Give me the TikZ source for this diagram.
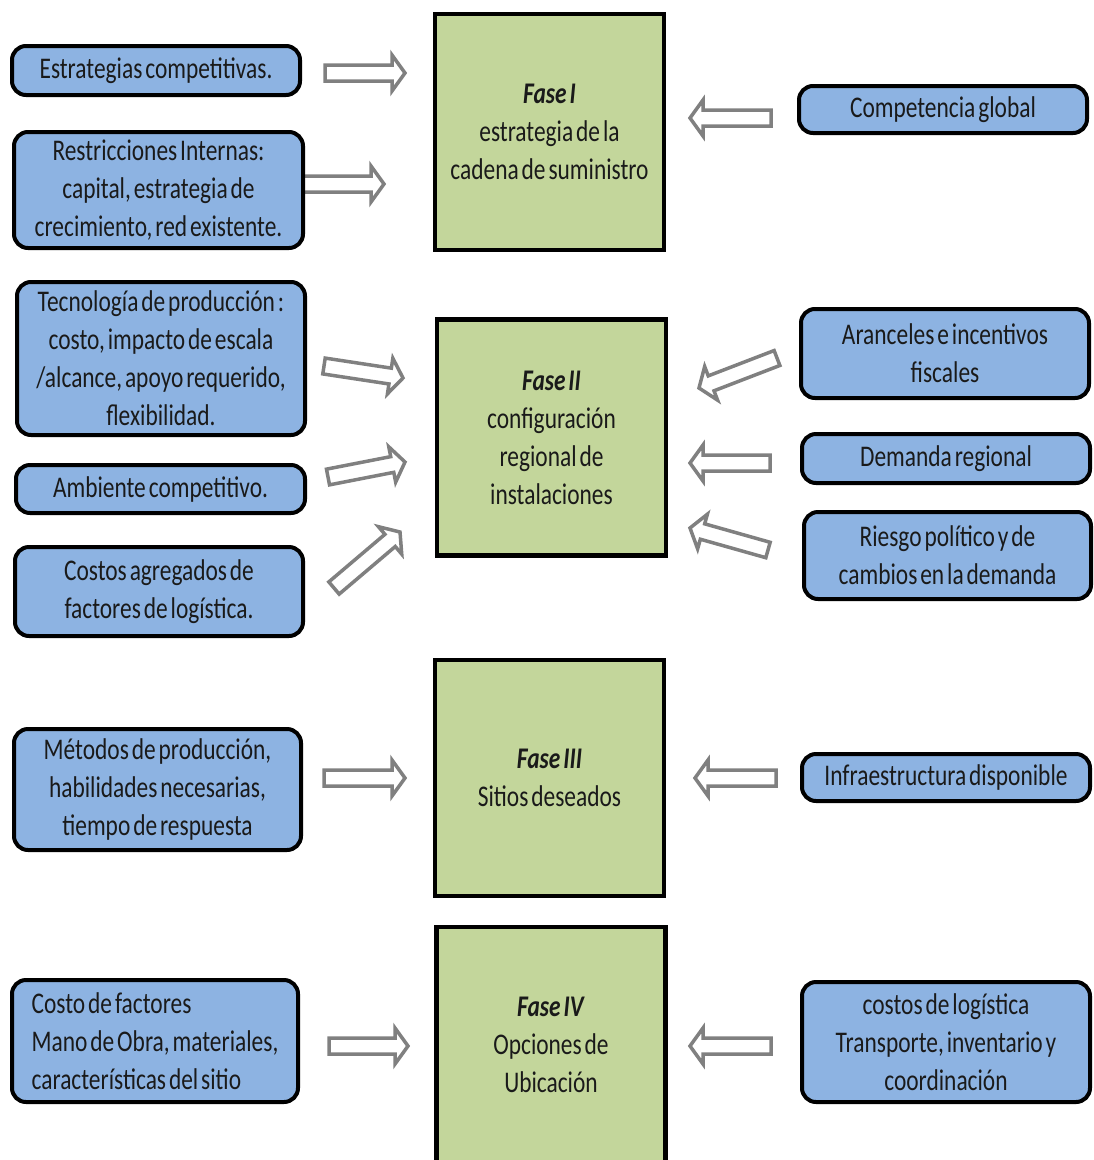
\documentclass[tikz,border=0pt]{standalone}
\usepackage{fontspec}
\setmainfont{Carlito}[FakeStretch=0.78, WordSpace=0.55]
\usetikzlibrary{calc}

\definecolor{boxblue}{HTML}{8DB3E2}
\definecolor{phasegreen}{HTML}{C3D69B}
\definecolor{arrowgray}{HTML}{808080}
\definecolor{inkdark}{HTML}{1A1A1A}

\tikzset{
  txt/.style={font=\fontsize{30}{38}\selectfont, text=inkdark},
  factor/.style={txt, draw=black, line width=4pt, fill=boxblue, rounded corners=14pt,
    align=center, inner sep=2pt},
  phase/.style={txt, draw=black, line width=4.5pt, fill=phasegreen, align=center,
    minimum width=229pt, minimum height=236pt},
  % hollow block arrow drawn between two named coordinates
  blockarrow/.style={draw=arrowgray, line width=3.5pt, fill=white, line join=miter,
    to path={
      ($(\tikztostart)!8pt!90:(\tikztotarget)$)
      -- ($(\tikztotarget)!13pt!(\tikztostart)!8pt!90:(\tikztotarget)$)
      -- ($(\tikztotarget)!13pt!(\tikztostart)!18pt!90:(\tikztotarget)$)
      -- (\tikztotarget)
      -- ($(\tikztotarget)!13pt!(\tikztostart)!18pt!-90:(\tikztotarget)$)
      -- ($(\tikztotarget)!13pt!(\tikztostart)!8pt!-90:(\tikztotarget)$)
      -- ($(\tikztostart)!8pt!-90:(\tikztotarget)$)
      -- cycle}}
}

\begin{document}
\begin{tikzpicture}[x=1pt, y=-1pt]
\useasboundingbox (0,0) rectangle (1094,1160);
\clip (0,0) rectangle (1094,1160);

% arrow end points
\coordinate (a1s) at (325,73);   \coordinate (a1e) at (405,73);
\coordinate (a2s) at (303,184);  \coordinate (a2e) at (384,184);
\coordinate (a3s) at (324,366);  \coordinate (a3e) at (403,378);
\coordinate (a4s) at (328,477);  \coordinate (a4e) at (405,462);
\coordinate (a5s) at (334,588);  \coordinate (a5e) at (400,532);
\coordinate (a6s) at (324,778);  \coordinate (a6e) at (405,778);
\coordinate (a7s) at (329,1046); \coordinate (a7e) at (408,1046);
\coordinate (b1s) at (771,118);  \coordinate (b1e) at (690,118);
\coordinate (b2s) at (777,358);  \coordinate (b2e) at (699,388);
\coordinate (b3s) at (770,463);  \coordinate (b3e) at (690,463);
\coordinate (b4s) at (768,550);  \coordinate (b4e) at (690,528);
\coordinate (b5s) at (776,778);  \coordinate (b5e) at (695,778);
\coordinate (b6s) at (771,1046); \coordinate (b6e) at (690,1046);

\foreach \a in {a1,a2,a3,a4,a5,a6,a7,b1,b2,b3,b4,b5,b6}
  \draw[blockarrow] (\a s) to (\a e);

% phases
\node[phase] (f1) at (549.5,132) {\textbf{\textit{Fase I}}\\estrategia de la\\cadena de suministro};
\node[phase] (f2) at (551.5,437.5) {\textbf{\textit{Fase II}}\\configuración\\regional de\\instalaciones};
\node[phase] (f3) at (549.5,778) {\textbf{\textit{Fase III}}\\Sitios deseados};
\node[phase] (f4) at (551,1045) {\textbf{\textit{Fase IV}}\\Opciones de\\Ubicación};

% left factors
\node[factor, minimum width=288pt, minimum height=49pt] (l1) at (156,70.5) {Estrategias competitivas.};
\node[factor, minimum width=289pt, minimum height=116pt] (l2) at (158.5,190) {Restricciones Internas:\\capital, estrategia de\\crecimiento, red existente.};
\node[factor, minimum width=288pt, minimum height=153pt] (l3) at (161,358.5) {Tecnología de producción :\\costo, impacto de escala\\/alcance, apoyo requerido,\\flexibilidad.};
\node[factor, minimum width=289pt, minimum height=48pt] (l4) at (160.5,489) {Ambiente competitivo.};
\node[factor, minimum width=288pt, minimum height=89pt] (l5) at (159,591.5) {Costos agregados de\\factores de logística.};
\node[factor, minimum width=287pt, minimum height=121pt] (l6) at (157.5,789.5) {Métodos de producción,\\habilidades necesarias,\\tiempo de respuesta};
\node[factor, minimum width=286pt, minimum height=122pt, align=left] (l7) at (155,1041) {Costo de factores\\Mano de Obra, materiales,\\características del sitio};

% right factors
\node[factor, minimum width=288pt, minimum height=47pt] (r1) at (943,109.5) {Competencia global};
\node[factor, minimum width=288pt, minimum height=89pt] (r2) at (945,353.5) {Aranceles e incentivos\\fiscales};
\node[factor, minimum width=288pt, minimum height=49pt] (r3) at (946,458.5) {Demanda regional};
\node[factor, minimum width=287pt, minimum height=87pt] (r4) at (947.5,555.5) {Riesgo político y de\\cambios en la demanda};
\node[factor, minimum width=288pt, minimum height=47pt] (r5) at (946,777.5) {Infraestructura disponible};
\node[factor, minimum width=288pt, minimum height=120pt] (r6) at (946,1042) {costos de logística\\Transporte, inventario y\\coordinación};
\end{tikzpicture}
\end{document}
